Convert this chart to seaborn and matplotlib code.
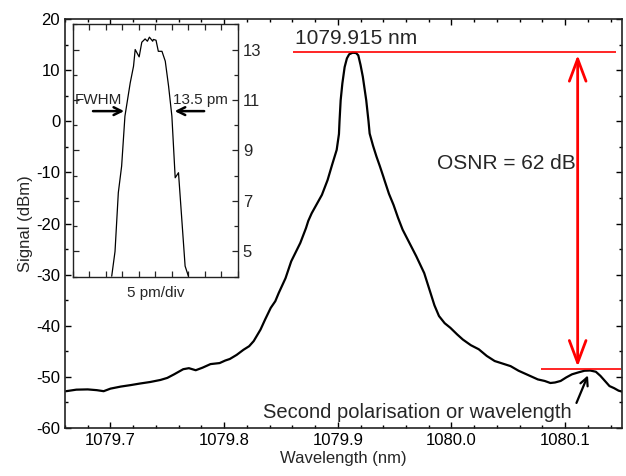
import numpy as np
import pandas as pd
import seaborn as sns
import matplotlib
matplotlib.use('Agg')
import matplotlib.pyplot as plt
from matplotlib.ticker import MultipleLocator, NullFormatter

# main spectrum (nm, dBm)
wavelength = [1079.661, 1079.670, 1079.680, 1079.688, 1079.694, 1079.700, 1079.709, 1079.718,
              1079.726, 1079.735, 1079.744, 1079.750, 1079.756, 1079.764, 1079.769, 1079.775,
              1079.781, 1079.788, 1079.796, 1079.801, 1079.805, 1079.811, 1079.817, 1079.822,
              1079.826, 1079.830, 1079.832, 1079.836, 1079.841, 1079.845, 1079.848, 1079.854,
              1079.859, 1079.863, 1079.867, 1079.872, 1079.874, 1079.877, 1079.882, 1079.886,
              1079.891, 1079.895, 1079.899, 1079.901, 1079.9015, 1079.9025, 1079.904, 1079.906,
              1079.908, 1079.910, 1079.913, 1079.916, 1079.918, 1079.920, 1079.922, 1079.925,
              1079.927, 1079.928, 1079.931, 1079.934, 1079.937, 1079.940, 1079.941, 1079.945,
              1079.949, 1079.953, 1079.957, 1079.963, 1079.969, 1079.976, 1079.980, 1079.985,
              1079.989, 1079.994, 1079.999, 1080.005, 1080.010, 1080.017, 1080.024, 1080.031,
              1080.038, 1080.045, 1080.052, 1080.059, 1080.066, 1080.071, 1080.076, 1080.082,
              1080.087, 1080.091, 1080.096, 1080.101, 1080.106, 1080.112, 1080.117, 1080.122,
              1080.127, 1080.131, 1080.135, 1080.139, 1080.143, 1080.147, 1080.152]
signal = [-52.8, -52.5, -52.45, -52.6, -52.8, -52.3, -51.9, -51.6,
          -51.3, -51.0, -50.6, -50.2, -49.5, -48.5, -48.3, -48.7,
          -48.2, -47.5, -47.3, -46.8, -46.5, -45.7, -44.7, -44.0,
          -43.0, -41.5, -40.75, -38.8, -36.5, -35.2, -33.6, -30.7,
          -27.4, -25.6, -23.8, -20.9, -19.5, -18.0, -16.0, -14.4,
          -11.5, -8.5, -5.6, -2.5, 0.0, 4.1, 7.4, 10.6,
          12.3, 13.1, 13.4, 13.35, 12.9, 11.0, 8.7, 4.1,
          0.0, -2.4, -4.8, -6.9, -8.8, -10.8, -11.5, -14.2,
          -16.35, -18.9, -21.2, -23.8, -26.4, -29.7, -32.5, -36.0,
          -38.1, -39.5, -40.4, -41.7, -42.7, -43.8, -44.6, -45.9,
          -46.9, -47.4, -47.9, -48.8, -49.5, -50.0, -50.5, -50.8,
          -51.2, -51.1, -50.8, -50.1, -49.5, -49.1, -48.8, -48.75,
          -49.0, -49.8, -50.8, -51.8, -52.2, -52.7, -53.0]

# zoomed peak for the inset (pm, dBm)
inset_pm = [11.8, 12.8, 13.8, 14.8, 15.8, 17.4, 18.4, 18.9, 20.1, 20.9, 21.9, 22.6, 23.2,
            24.2, 24.4, 25.2, 25.9, 27.0, 28.0, 29.0, 30.0, 31.0, 32.0, 33.0, 34.0, 35.0]
inset_dbm = [4.02, 5.0, 7.33, 8.38, 10.36, 11.68, 12.34, 13.0, 12.71, 13.29, 13.42, 13.33, 13.49,
             13.33, 13.4, 13.37, 12.93, 12.93, 12.54, 11.55, 10.36, 7.92, 8.12, 6.27, 4.42, 4.02]

peak_level = 13.5
second_level = -48.55

sns.set_style('ticks')
plt.rcParams['font.family'] = ['Liberation Sans', 'DejaVu Sans']
plt.rcParams['axes.unicode_minus'] = False

fig = plt.figure(figsize=(6.26, 4.76), dpi=100)
ax = fig.add_axes([65 / 626, 48 / 476, 557 / 626, 409 / 476])

df = pd.DataFrame({'wl': wavelength, 'sig': signal})
sns.lineplot(data=df, x='wl', y='sig', ax=ax, color='black', lw=1.6,
             estimator=None, sort=False)

ax.set_xlim(1079.66, 1080.15)
ax.set_ylim(-60, 20)
ax.xaxis.set_major_locator(MultipleLocator(0.1))
ax.xaxis.set_minor_locator(MultipleLocator(0.02))
ax.yaxis.set_major_locator(MultipleLocator(10))
ax.yaxis.set_minor_locator(MultipleLocator(5))
ax.set_xticklabels([f'{v:.1f}' for v in ax.get_xticks()])
ax.tick_params(which='both', direction='in', top=True, right=True, labelsize=12, colors='black')
ax.tick_params(which='major', length=4, width=1)
ax.tick_params(which='minor', length=2.5, width=1)
for s in ax.spines.values():
    s.set_linewidth(1.2)
    s.set_color('#222222')
ax.set_xlabel('Wavelength (nm)', fontsize=12, labelpad=2)
ax.set_ylabel('Signal (dBm)', fontsize=12, labelpad=2)

# OSNR annotation
ax.hlines(peak_level, 1079.861, 1080.145, color='red', lw=1.2)
ax.hlines(second_level, 1080.079, 1080.149, color='red', lw=1.2)
ax.annotate('', xy=(1080.111, peak_level), xytext=(1080.111, second_level),
            arrowprops=dict(arrowstyle='<->, head_width=0.3, head_length=0.8',
                            color='red', lw=2, mutation_scale=20))
ax.text(1079.862, 14.3, '1079.915 nm', fontsize=15, ha='left', va='bottom')
ax.text(1080.109, -8.2, 'OSNR = 62 dB', fontsize=15, ha='right', va='center')
ax.text(1080.106, -57.0, 'Second polarisation or wavelength', fontsize=14.5, ha='right', va='center')
ax.annotate('', xy=(1080.121, -49.2), xytext=(1080.109, -55.6),
            arrowprops=dict(arrowstyle='->', color='black', lw=1.6, mutation_scale=14))

# inset
ins = fig.add_axes([72.7 / 626, (476 - 276.7) / 476, 165.3 / 626, 252.4 / 476])
ins_df = pd.DataFrame({'pm': inset_pm, 'dbm': inset_dbm})
sns.lineplot(data=ins_df, x='pm', y='dbm', ax=ins, color='black', lw=0.9,
             estimator=None, sort=False)
ins.set_xlim(0, 50)
ins.set_ylim(4, 14)
ins.xaxis.set_major_locator(MultipleLocator(5))
ins.xaxis.set_major_formatter(NullFormatter())
ins.yaxis.set_major_locator(MultipleLocator(2, offset=1))
ins.yaxis.set_minor_locator(MultipleLocator(1))
ins.yaxis.tick_right()
ins.tick_params(which='both', direction='in', top=True, left=True, right=True,
                labelleft=False, labelright=True, labelsize=12)
ins.tick_params(which='major', length=4, width=0.9)
ins.tick_params(which='minor', length=3, width=0.9)
for s in ins.spines.values():
    s.set_linewidth(1.0)
    s.set_color('#222222')
ins.set_xlabel('5 pm/div', fontsize=11, labelpad=3)
ins.set_ylabel('')
ins.annotate('', xy=(16.4, 10.56), xytext=(5.3, 10.56),
             arrowprops=dict(arrowstyle='->', color='black', lw=1.8, mutation_scale=14))
ins.annotate('', xy=(30.0, 10.56), xytext=(40.6, 10.56),
             arrowprops=dict(arrowstyle='->', color='black', lw=1.8, mutation_scale=14))
ins.text(0.6, 11.0, 'FWHM', fontsize=11, ha='left', va='center')
ins.text(30.4, 11.0, '13.5 pm', fontsize=11, ha='left', va='center')

fig.savefig('out.png', dpi=100)
